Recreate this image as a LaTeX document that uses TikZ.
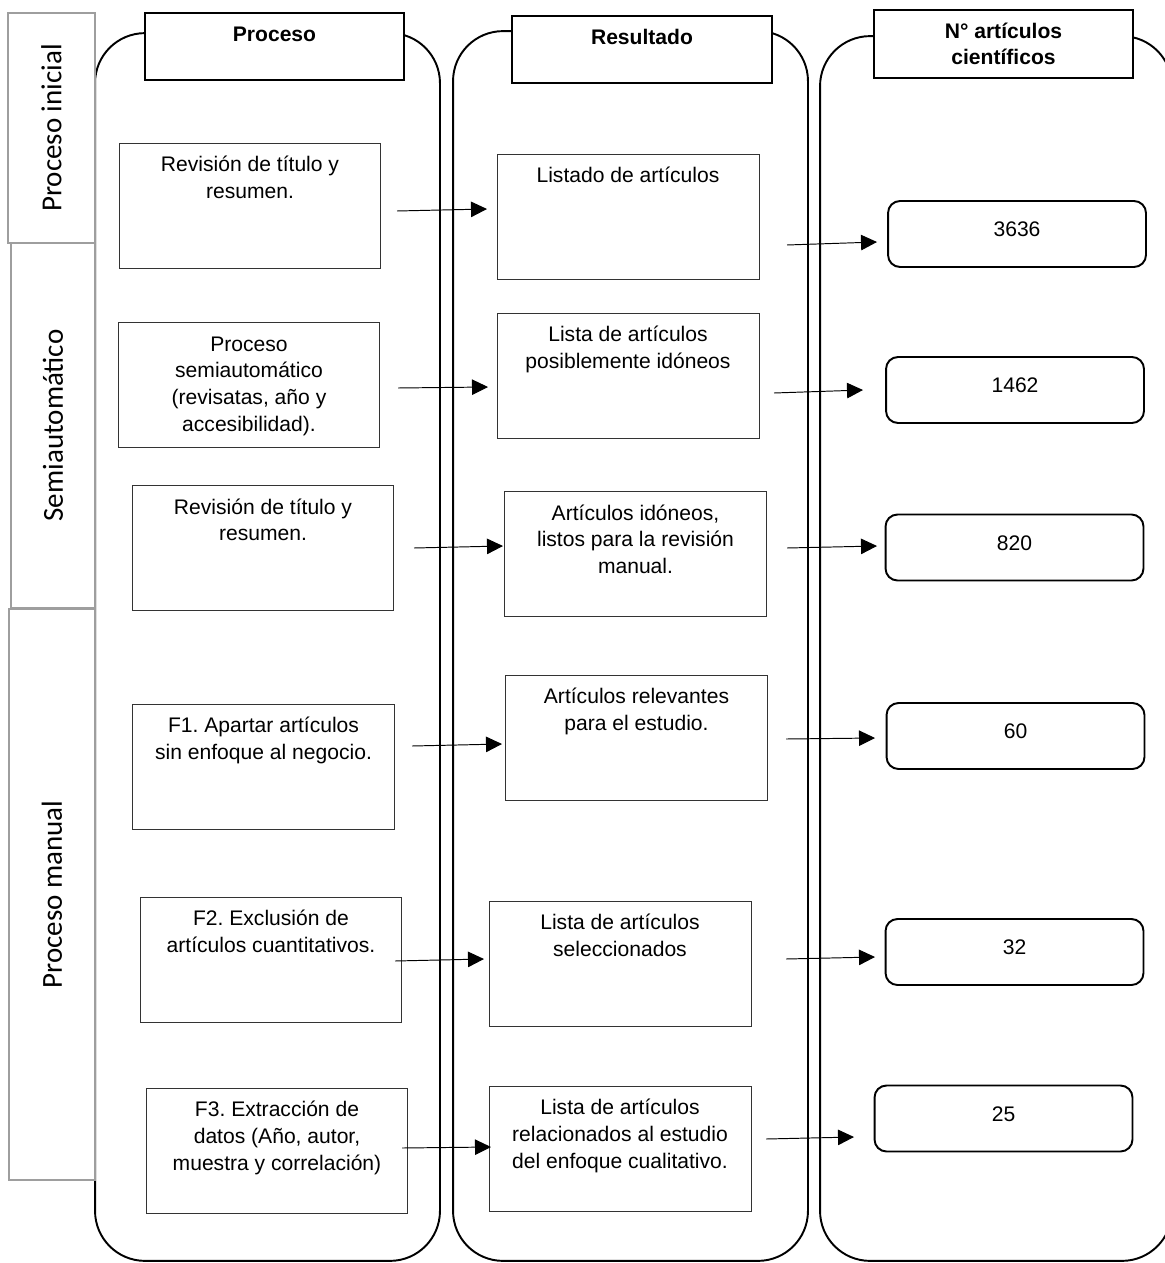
\documentclass[tikz,border=0pt]{standalone}
\usepackage{fontspec}
\setmainfont{Liberation Sans}
\newfontfamily\sidefont{Carlito}
\usetikzlibrary{arrows.meta}
\frenchspacing

% text at the top of a box: width, height, text
\newcommand{\boxtxt}[3]{\parbox[t][#2][t]{#1}{\centering\rule{0pt}{16.3pt}#3}}

\begin{document}
\begin{tikzpicture}[x=0.02cm, y=-0.02cm, font=\fontsize{12}{15.2}\selectfont]
    \tikzset{lane/.style = {draw, line width=1.1pt, rounded corners=1cm, inner sep=0}}
    \tikzset{head/.style = {draw, line width=1.1pt, fill=white, inner sep=0,
        font=\fontsize{12}{14.8}\selectfont\bfseries}}
    \tikzset{side/.style = {draw=black!38, line width=1.1pt, fill=white, rotate=90, inner sep=0,
        font=\sidefont\fontsize{16.5}{19}\selectfont}}
    \tikzset{stepbox/.style = {draw=black!80, line width=0.55pt, inner sep=0}}
    \tikzset{count/.style = {draw, line width=1.1pt, rounded corners=0.24cm, minimum width=5.16cm,
        minimum height=1.32cm, text height=9pt, text depth=6.1pt, inner sep=0}}
    \tikzset{arr/.style = {-{Triangle[length=0.32cm, width=0.31cm]}, line width=0.55pt}}
    \useasboundingbox (0,0) rectangle (1165,1263);

    % lanes
    \node[lane, minimum width=6.9cm, minimum height=24.56cm] (lproc) at (267.5,647) {};
    \node[lane, minimum width=7.1cm, minimum height=24.6cm] (lres) at (630.5,646) {};
    \node[lane, minimum width=7.04cm, minimum height=24.5cm] (lnum) at (996,648.5) {};

    % phases
    \node[side, minimum width=4.6cm, minimum height=1.74cm] (sini) at (51.5,128) {Proceso inicial};
    \node[side, minimum width=7.3cm, minimum height=1.68cm] (ssemi) at (53,425.5) {Semiautomático};
    \node[side, minimum width=11.42cm, minimum height=1.72cm] (sman) at (52,894.5) {Proceso manual};

    % headers
    \node[head] (hproc) at (274.5,46.5) {\boxtxt{5.18cm}{1.34cm}{Proceso}};
    \node[head] (hres) at (642,49.5) {\boxtxt{5.2cm}{1.34cm}{Resultado}};
    \node[head] (hnum) at (1003.5,44) {\boxtxt{5.18cm}{1.36cm}{N° artículos\\científicos}};

    % process
    \node[stepbox] (p1) at (250,205.5) {\boxtxt{5.24cm}{2.5cm}{Revisión de título y\\resumen.}};
    \node[stepbox] (p2) at (249,385) {\boxtxt{5.24cm}{2.5cm}{Proceso\\semiautomático\\(revisatas, año y\\accesibilidad).}};
    \node[stepbox] (p3) at (263,548) {\boxtxt{5.24cm}{2.5cm}{Revisión de título y\\resumen.}};
    \node[stepbox] (p4) at (263.5,766.5) {\boxtxt{5.24cm}{2.5cm}{F1. Apartar artículos\\sin enfoque al negocio.}};
    \node[stepbox] (p5) at (271,959.5) {\boxtxt{5.24cm}{2.5cm}{F2. Exclusión de\\artículos cuantitativos.}};
    \node[stepbox] (p6) at (277,1150.5) {\boxtxt{5.24cm}{2.5cm}{F3. Extracción de\\datos (Año, autor,\\muestra y correlación)}};

    % results
    \node[stepbox] (r1) at (628,216.5) {\boxtxt{5.24cm}{2.5cm}{Listado de artículos}};
    \node[stepbox] (r2) at (628,375.5) {\boxtxt{5.24cm}{2.5cm}{Lista de artículos\\posiblemente idóneos}};
    \node[stepbox] (r3) at (635.5,554) {\boxtxt{5.24cm}{2.5cm}{Artículos idóneos,\\listos para la revisión\\manual.}};
    \node[stepbox] (r4) at (636.5,737.5) {\boxtxt{5.24cm}{2.5cm}{Artículos relevantes\\para el estudio.}};
    \node[stepbox] (r5) at (620,963.5) {\boxtxt{5.24cm}{2.5cm}{Lista de artículos\\seleccionados}};
    \node[stepbox] (r6) at (620,1148.5) {\boxtxt{5.24cm}{2.5cm}{Lista de artículos\\relacionados al estudio\\del enfoque cualitativo.}};

    % counts
    \node[count] (n1) at (1017,234) {3636};
    \node[count] (n2) at (1015,390) {1462};
    \node[count] (n3) at (1014.5,547.5) {820};
    \node[count] (n4) at (1015.5,736) {60};
    \node[count] (n5) at (1014.5,952) {32};
    \node[count] (n6) at (1003.5,1118.5) {25};

    % arrow ends
    \coordinate (p1o) at (397,211);   \coordinate (r1i) at (487,209);
    \coordinate (p2o) at (398,388);   \coordinate (r2i) at (488,387);
    \coordinate (p3o) at (414,548);   \coordinate (r3i) at (503,546);
    \coordinate (p4o) at (412,746);   \coordinate (r4i) at (502,744);
    \coordinate (p5o) at (395,961);   \coordinate (r5i) at (484,959);
    \coordinate (p6o) at (402,1148);  \coordinate (r6i) at (491,1147);
    \coordinate (r1o) at (787,245);   \coordinate (n1i) at (877,242);
    \coordinate (r2o) at (774,393);   \coordinate (n2i) at (863,390);
    \coordinate (r3o) at (787,548);   \coordinate (n3i) at (877,546);
    \coordinate (r4o) at (786,739);   \coordinate (n4i) at (875,738);
    \coordinate (r5o) at (786,959);   \coordinate (n5i) at (875,957);
    \coordinate (r6o) at (766,1139);  \coordinate (n6i) at (854,1137);

    \draw[arr] (p1o) -- (r1i);
    \draw[arr] (p2o) -- (r2i);
    \draw[arr] (p3o) -- (r3i);
    \draw[arr] (p4o) -- (r4i);
    \draw[arr] (p5o) -- (r5i);
    \draw[arr] (p6o) -- (r6i);
    \draw[arr] (r1o) -- (n1i);
    \draw[arr] (r2o) -- (n2i);
    \draw[arr] (r3o) -- (n3i);
    \draw[arr] (r4o) -- (n4i);
    \draw[arr] (r5o) -- (n5i);
    \draw[arr] (r6o) -- (n6i);
\end{tikzpicture}
\end{document}
